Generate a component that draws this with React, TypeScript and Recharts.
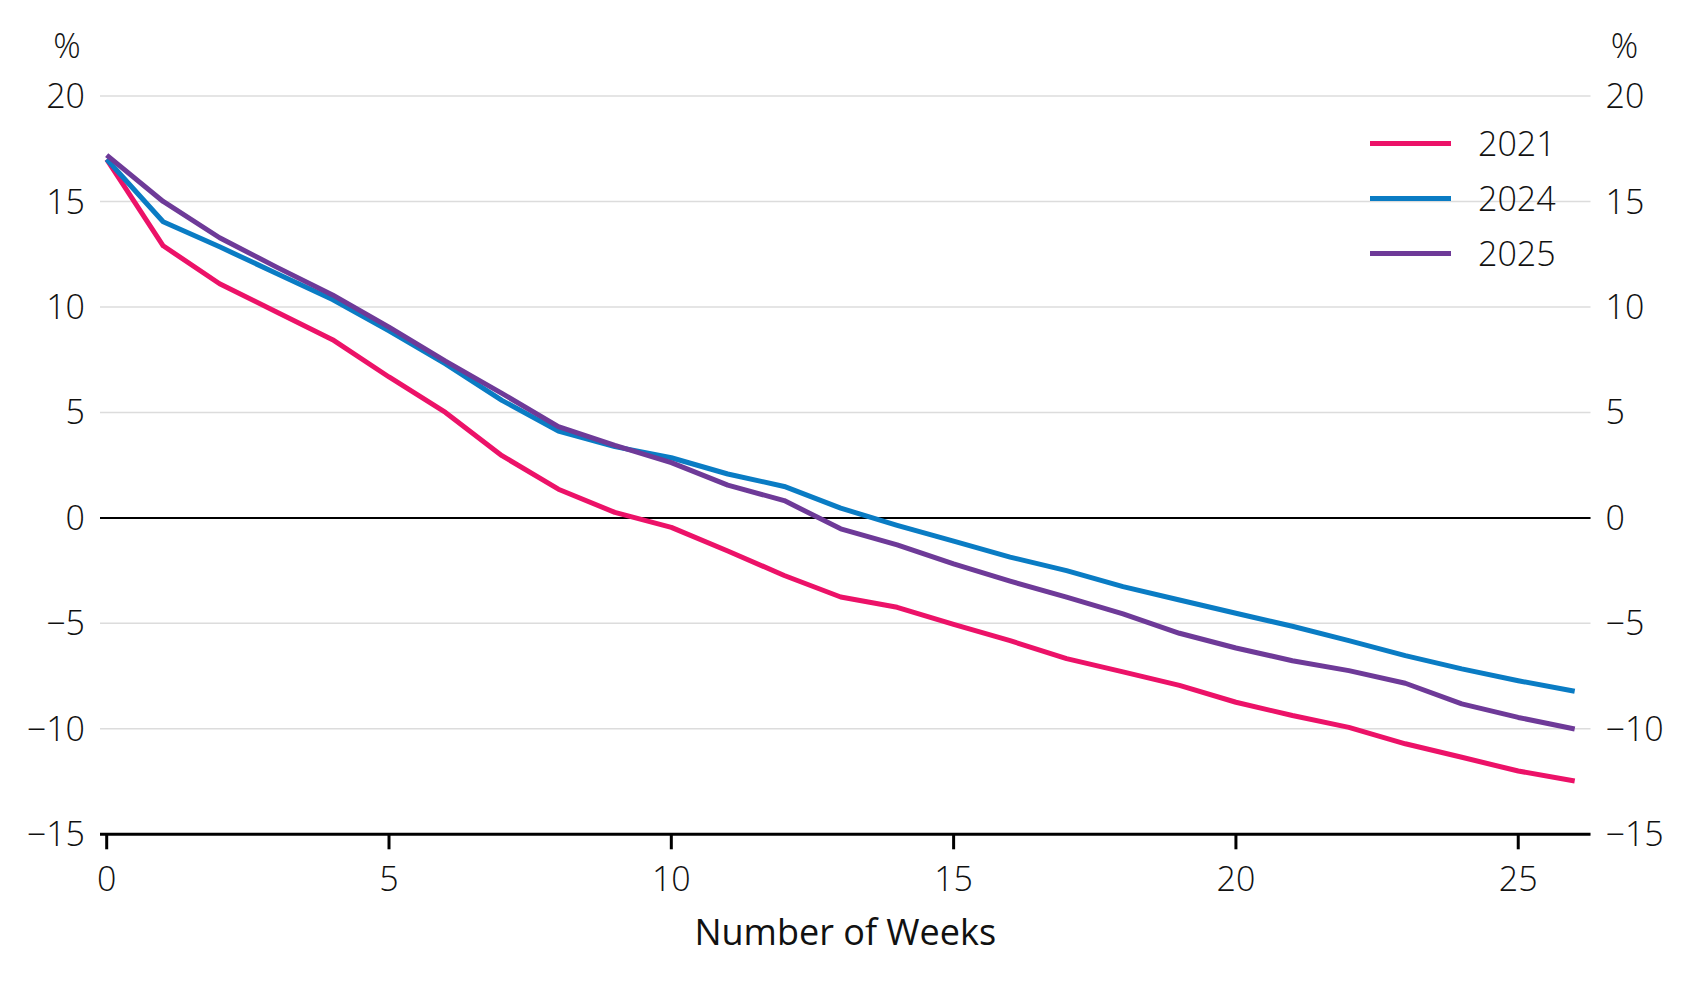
import React from "react";
import {
  LineChart,
  Line,
  XAxis,
  YAxis,
  CartesianGrid,
  ReferenceLine,
  Legend,
} from "recharts";

const weeks = [0, 1, 2, 3, 4, 5, 6, 7, 8, 9, 10, 11, 12, 13, 14, 15, 16, 17, 18, 19, 20, 21, 22, 23, 24, 25, 26];

const values2021 = [
  17.0, 12.9, 11.1, 9.77, 8.45, 6.68, 5.0, 2.95, 1.36, 0.26, -0.45, -1.57, -2.73, -3.75,
  -4.24, -5.05, -5.82, -6.67, -7.3, -7.94, -8.74, -9.37, -9.93, -10.71, -11.35, -12.0, -12.47,
];
const values2024 = [
  17.0, 14.04, 12.85, 11.6, 10.35, 8.87, 7.3, 5.57, 4.12, 3.38, 2.85, 2.08, 1.49, 0.46,
  -0.35, -1.1, -1.86, -2.5, -3.26, -3.89, -4.52, -5.14, -5.82, -6.53, -7.16, -7.72, -8.22,
];
const values2025 = [
  17.2, 15.0, 13.28, 11.9, 10.57, 9.04, 7.43, 5.9, 4.33, 3.44, 2.62, 1.55, 0.82, -0.52,
  -1.28, -2.18, -3.0, -3.76, -4.55, -5.47, -6.17, -6.77, -7.24, -7.84, -8.82, -9.46, -10.01,
];

const xTicks = [0, 5, 10, 15, 20, 25];
const yTicks = [-15, -10, -5, 0, 5, 10, 15, 20];

const seriesList = [
  { key: "y2021", name: "2021", color: "#EC1268" },
  { key: "y2024", name: "2024", color: "#0A7CC4" },
  { key: "y2025", name: "2025", color: "#6E3A98" },
];

const data = weeks.map((w, i) => ({
  week: w,
  y2021: values2021[i],
  y2024: values2024[i],
  y2025: values2025[i],
}));

const FONT = "'Open Sans', 'Noto Sans', sans-serif";
const tickStyle = { fontFamily: FONT, fontSize: 34, fontWeight: 300, fill: "#111" };

const fmt = (v: number) => (v < 0 ? `\u2212${Math.abs(v)}` : `${v}`);

const renderLegend = () => (
  <div style={{ fontFamily: FONT }}>
    {seriesList.map((s) => (
      <div
        key={s.key}
        style={{ display: "flex", alignItems: "center", height: 55 }}
      >
        <div style={{ width: 81, height: 5, background: s.color }} />
        <span
          style={{
            marginLeft: 27,
            fontSize: 34,
            fontWeight: 300,
            color: "#111",
            lineHeight: "55px",
          }}
        >
          {s.name}
        </span>
      </div>
    ))}
  </div>
);

const percentLabel = (dx: number) => (props: any) => {
  const vb = props.viewBox;
  return (
    <text
      x={vb.x + dx}
      y={vb.y - 38.5}
      textAnchor="middle"
      fontFamily={FONT}
      fontSize={34}
      fontWeight={300}
      fill="#111"
    >
      %
    </text>
  );
};

export default function App() {
  return (
    <div style={{ position: "absolute", left: 0, top: 0, background: "#fff" }}>
      <LineChart
        width={1692}
        height={983}
        data={data}
        margin={{ top: 96, right: 11.5, bottom: 88.7, left: 10 }}
      >
        <CartesianGrid
          yAxisId="left"
          vertical={false}
          stroke="#dcdcdc"
          strokeWidth={1.5}
        />
        <XAxis
          dataKey="week"
          type="number"
          domain={[0, 26]}
          ticks={xTicks}
          interval={0}
          padding={{ left: 6.7, right: 15.8 }}
          axisLine={{ stroke: "#000", strokeWidth: 3 }}
          tickLine={{ stroke: "#000", strokeWidth: 3 }}
          tickSize={15}
          tickMargin={18}
          height={60}
          tick={tickStyle}
          label={(props: any) => {
            const vb = props.viewBox;
            return (
              <text
                x={vb.x + vb.width / 2}
                y={vb.y + 111}
                textAnchor="middle"
                fontFamily={FONT}
                fontSize={36}
                fill="#111"
              >
                Number of Weeks
              </text>
            );
          }}
        />
        <YAxis
          yAxisId="left"
          domain={[-15, 20]}
          ticks={yTicks}
          interval={0}
          axisLine={false}
          tickLine={false}
          tickSize={0}
          tickMargin={15}
          width={90}
          tick={tickStyle}
          tickFormatter={fmt}
          label={percentLabel(57)}
        />
        <YAxis
          yAxisId="right"
          orientation="right"
          domain={[-15, 20]}
          allowDataOverflow
          ticks={yTicks}
          interval={0}
          axisLine={false}
          tickLine={false}
          tickSize={0}
          tickMargin={15}
          width={90}
          tick={tickStyle}
          tickFormatter={fmt}
          label={percentLabel(34)}
        />
        <ReferenceLine yAxisId="left" y={0} stroke="#000" strokeWidth={2} />
        <Legend
          layout="vertical"
          verticalAlign="middle"
          align="center"
          content={renderLegend}
          wrapperStyle={{ top: 116, left: 1370, right: "auto", bottom: "auto", width: "auto" }}
        />
        {/* invisible series so the mirrored right axis gets its scale */}
        <Line
          yAxisId="right"
          dataKey="y2021"
          stroke="none"
          strokeWidth={0}
          dot={false}
          activeDot={false}
          legendType="none"
          isAnimationActive={false}
        />
        {seriesList.map((s) => (
          <Line
            key={s.key}
            yAxisId="left"
            type="linear"
            dataKey={s.key}
            name={s.name}
            stroke={s.color}
            strokeWidth={5}
            strokeLinejoin="round"
            dot={false}
            activeDot={false}
            isAnimationActive={false}
          />
        ))}
      </LineChart>
    </div>
  );
}
